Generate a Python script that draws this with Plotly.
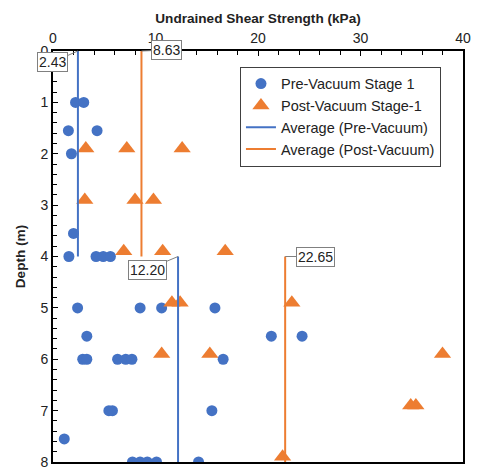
import plotly.graph_objects as go

# Pre-Vacuum Stage 1 (circles)
pre_strength = [2.2, 3.0, 1.5, 4.3, 1.8, 2.0,
                1.55, 4.2, 4.9, 5.6,
                2.4, 8.5, 10.6, 15.8,
                3.3, 21.3, 24.3,
                2.9, 3.3, 6.3, 7.1, 7.7, 16.6,
                5.45, 5.8, 15.5,
                1.1,
                7.75, 8.5, 9.2, 10.1, 14.2]
pre_depth = [1.0, 1.0, 1.55, 1.55, 2.0, 3.55,
             4.0, 4.0, 4.0, 4.0,
             5.0, 5.0, 5.0, 5.0,
             5.55, 5.55, 5.55,
             6.0, 6.0, 6.0, 6.0, 6.0, 6.0,
             7.0, 7.0, 7.0,
             7.55,
             8.0, 8.0, 8.0, 8.0, 8.0]

# Post-Vacuum Stage-1 (triangles)
post_strength = [3.2, 7.2, 12.6,
                 3.1, 8.0, 9.8,
                 6.9, 10.7, 16.8,
                 11.6, 12.4, 23.3,
                 10.6, 15.3, 38.0,
                 34.9, 35.4,
                 22.4]
post_depth = [1.9, 1.9, 1.9,
              2.9, 2.9, 2.9,
              3.9, 3.9, 3.9,
              4.9, 4.9, 4.9,
              5.9, 5.9, 5.9,
              6.9, 6.9,
              7.9]

# Averages per depth interval
avg_depths = [(0, 4), (4, 8)]
avg_pre = [2.43, 12.20]
avg_post = [8.63, 22.65]

BLUE = "#4472C4"
ORANGE = "#ED7D31"
FONT = "Liberation Sans, Arial, sans-serif"


def step_xy(vals):
    xs, ys = [], []
    for v, (d0, d1) in zip(vals, avg_depths):
        xs += [v, v, None]
        ys += [d0, d1, None]
    return xs, ys


fig = go.Figure()
fig.add_trace(go.Scatter(x=pre_strength, y=pre_depth, mode="markers",
                         name="Pre-Vacuum Stage 1",
                         marker=dict(symbol="circle", size=11, color=BLUE)))
fig.add_trace(go.Scatter(x=post_strength, y=post_depth, mode="markers",
                         name="Post-Vacuum Stage-1",
                         marker=dict(symbol="triangle-up", size=15, color=ORANGE)))
xs, ys = step_xy(avg_pre)
fig.add_trace(go.Scatter(x=xs, y=ys, mode="lines", name="Average (Pre-Vacuum)",
                         line=dict(color=BLUE, width=2)))
xs, ys = step_xy(avg_post)
fig.add_trace(go.Scatter(x=xs, y=ys, mode="lines", name="Average (Post-Vacuum)",
                         line=dict(color=ORANGE, width=2)))

offsets_pre = [(-25, 11), (-31, 13)]
offsets_post = [(25, -1), (30, 0)]
for vals, offs in ((avg_pre, offsets_pre), (avg_post, offsets_post)):
    for v, (d0, d1), (ax, ay) in zip(vals, avg_depths, offs):
        fig.add_annotation(x=v, y=d0, text=f"{v:.2f}", showarrow=True,
                           ax=ax, ay=ay, arrowhead=0, arrowwidth=1,
                           arrowcolor="#808080", bordercolor="#808080",
                           borderwidth=1, borderpad=1, bgcolor="white",
                           font=dict(size=14, color="#222", family=FONT))

fig.update_layout(
    width=477, height=467,
    margin=dict(l=53, r=14, t=51, b=5),
    paper_bgcolor="white", plot_bgcolor="white",
    font=dict(family=FONT, size=14, color="#222"),
    showlegend=True,
    legend=dict(x=0.456, y=0.962, xanchor="left", yanchor="top",
                bgcolor="white", bordercolor="#404040", borderwidth=1,
                font=dict(size=14.5, color="#222"), itemwidth=30,
                tracegroupgap=0),
)
fig.update_xaxes(side="top", range=[0, 40], dtick=10, showgrid=False,
                 automargin=False, ticklabeloverflow="allow",
                 zeroline=False, showline=True, linecolor="black",
                 linewidth=2, mirror=True, ticks="inside", ticklen=5,
                 tickcolor="black",
                 minor=dict(dtick=2, ticks="inside", ticklen=4,
                            tickcolor="black", showgrid=False),
                 title=dict(text="<b>Undrained Shear Strength (kPa)</b>",
                            font=dict(size=13.6), standoff=4),
                 tickfont=dict(size=14))
fig.update_yaxes(range=[8, 0], dtick=1, showgrid=False, zeroline=False,
                 automargin=False, ticklabeloverflow="allow",
                 showline=True, linecolor="black", linewidth=2, mirror=True,
                 ticks="inside", ticklen=5, tickcolor="black",
                 minor=dict(dtick=0.2, ticks="inside", ticklen=4,
                            tickcolor="black", showgrid=False),
                 title=dict(text="<b>Depth (m)</b>", font=dict(size=13.6),
                            standoff=12),
                 tickfont=dict(size=14))

fig.write_html("out.html", config={"displayModeBar": False},
               post_script="document.body.style.margin='0';document.body.style.overflow='hidden';")
